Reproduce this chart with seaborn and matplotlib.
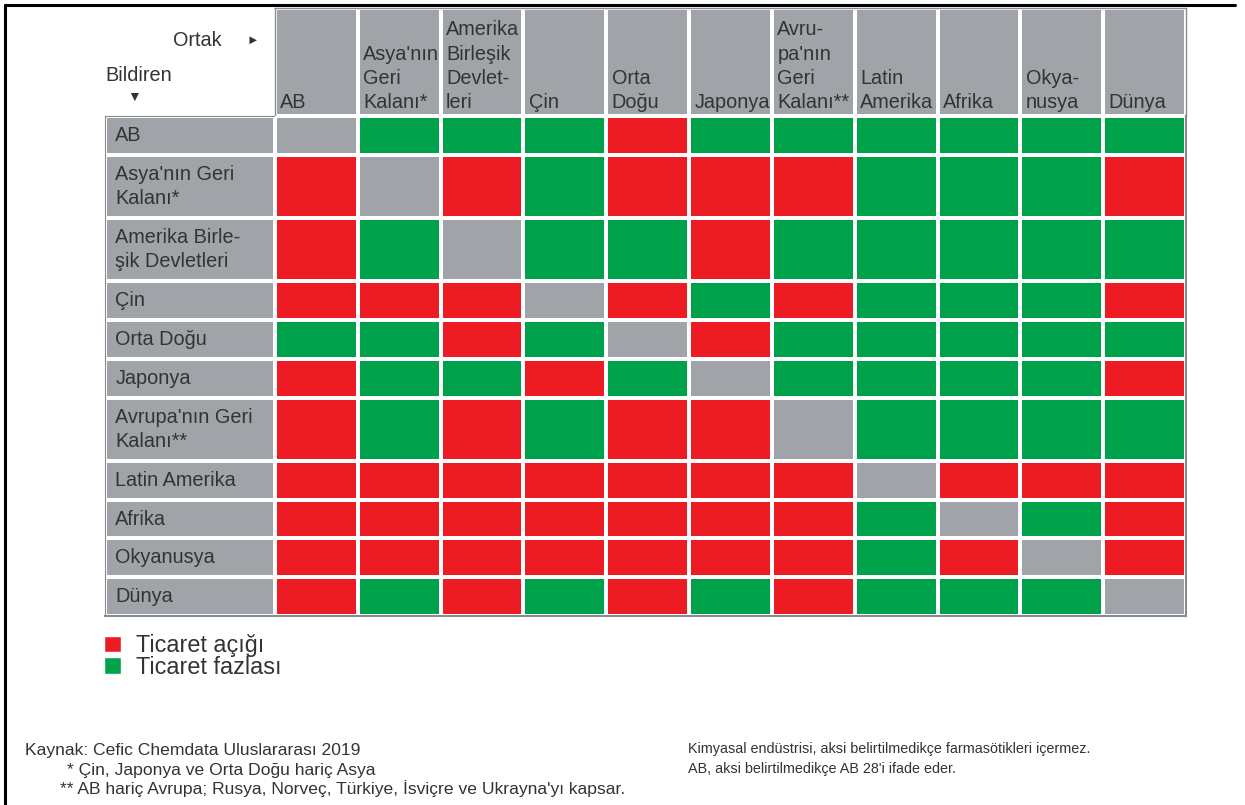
import numpy as np
import matplotlib.pyplot as plt
import seaborn as sns
from matplotlib.colors import ListedColormap
from matplotlib.lines import Line2D
from matplotlib.patches import Patch

# Ortak (partner) columns and Bildiren (reporter) rows
partners = ["AB", "Asya'nın\nGeri\nKalanı*", "Amerika\nBirleşik\nDevlet-\nleri", "Çin",
            "Orta\nDoğu", "Japonya", "Avru-\npa'nın\nGeri\nKalanı**", "Latin\nAmerika",
            "Afrika", "Okya-\nnusya", "Dünya"]
reporters = ["AB", "Asya'nın Geri\nKalanı*", "Amerika Birle-\nşik Devletleri", "Çin",
             "Orta Doğu", "Japonya", "Avrupa'nın Geri\nKalanı**", "Latin Amerika",
             "Afrika", "Okyanusya", "Dünya"]

# 1 = ticaret fazlası, -1 = ticaret açığı, 0 = kendisi
balance = [
    [0, 1, 1, 1, -1, 1, 1, 1, 1, 1, 1],
    [-1, 0, -1, 1, -1, -1, -1, 1, 1, 1, -1],
    [-1, 1, 0, 1, 1, -1, 1, 1, 1, 1, 1],
    [-1, -1, -1, 0, -1, 1, -1, 1, 1, 1, -1],
    [1, 1, -1, 1, 0, -1, 1, 1, 1, 1, 1],
    [-1, 1, 1, -1, 1, 0, 1, 1, 1, 1, -1],
    [-1, 1, -1, 1, -1, -1, 0, 1, 1, 1, 1],
    [-1, -1, -1, -1, -1, -1, -1, 0, -1, -1, -1],
    [-1, -1, -1, -1, -1, -1, -1, 1, 0, 1, -1],
    [-1, -1, -1, -1, -1, -1, -1, 1, -1, 0, -1],
    [-1, 1, -1, 1, -1, 1, -1, 1, 1, 1, 0],
]
legend_labels = ["Ticaret açığı", "Ticaret fazlası"]

RED, GREY, GREEN = "#ED1C24", "#A0A4A9", "#00A14B"
TXT = "#333333"
EDGE = "#888c91"
FS = 14.3

sns.set_style("white")
plt.rcParams["font.family"] = ["Liberation Sans", "DejaVu Sans"]

W, H = 1245, 805
fig = plt.figure(figsize=(W / 100, H / 100), dpi=100)

# row heights follow the number of label lines
row_h = [14.5 + 24.5 * (r.count("\n") + 1) for r in reporters]
gs = fig.add_gridspec(len(reporters) + 1, 2, height_ratios=[109] + row_h,
                      width_ratios=[170, 911],
                      left=105 / W, right=1186 / W, top=1 - 8 / H, bottom=1 - 616 / H,
                      hspace=0, wspace=0)

cmap = ListedColormap([RED, GREY, GREEN])
grey_cmap = ListedColormap([GREY])
lw = 1.6

# corner with axis captions
ax0 = fig.add_subplot(gs[0, 0])
ax0.axis("off")
ax0.text(0.688, 0.70, "Ortak", ha="right", va="center", fontsize=FS, color=TXT,
         transform=ax0.transAxes)
ax0.text(0.87, 0.70, "►", ha="center", va="center", fontsize=9, color=TXT,
         transform=ax0.transAxes)
ax0.text(0.0, 0.38, "Bildiren", ha="left", va="center", fontsize=FS, color=TXT,
         transform=ax0.transAxes)
ax0.text(0.17, 0.18, "▼", ha="center", va="center", fontsize=10, color=TXT,
         transform=ax0.transAxes)

# header row
axh = fig.add_subplot(gs[0, 1])
sns.heatmap(np.zeros((1, len(partners))), cmap=grey_cmap, cbar=False, linewidths=lw,
            linecolor="white", xticklabels=False, yticklabels=False, ax=axh)
for j, p in enumerate(partners):
    axh.text(j + 0.065, 0.96, p, ha="left", va="bottom", fontsize=FS, color=TXT,
             linespacing=1.35)
for s in ["top", "left", "right"]:
    axh.spines[s].set_visible(True)
    axh.spines[s].set_color(EDGE)
    axh.spines[s].set_linewidth(1)

# body rows
for i, r in enumerate(reporters):
    axl = fig.add_subplot(gs[i + 1, 0])
    sns.heatmap(np.zeros((1, 1)), cmap=grey_cmap, cbar=False, linewidths=lw,
                linecolor="white", xticklabels=False, yticklabels=False, ax=axl)
    axl.text(0.06, 0.5, r, ha="left", va="center", fontsize=FS, color=TXT,
             linespacing=1.35)
    axl.spines["left"].set_visible(True)
    axl.spines["left"].set_color(EDGE)
    if i == 0:
        axl.spines["top"].set_visible(True)
        axl.spines["top"].set_color(EDGE)

    axd = fig.add_subplot(gs[i + 1, 1])
    sns.heatmap(np.array([balance[i]]), cmap=cmap, vmin=-1, vmax=1, cbar=False,
                linewidths=lw, linecolor="white", xticklabels=False, yticklabels=False,
                ax=axd)
    axd.spines["right"].set_visible(True)
    axd.spines["right"].set_color(EDGE)
    axd.spines["right"].set_linewidth(1.5)
    if i == len(reporters) - 1:
        axd.spines["bottom"].set_visible(True)
        axd.spines["bottom"].set_color(EDGE)
        axd.spines["bottom"].set_linewidth(1.5)
        axl.spines["bottom"].set_visible(True)
        axl.spines["bottom"].set_color(EDGE)
        axl.spines["bottom"].set_linewidth(1.5)

# legend
handles = [Patch(facecolor=RED, label=legend_labels[0]),
           Patch(facecolor=GREEN, label=legend_labels[1])]
fig.legend(handles=handles, loc="upper left", bbox_to_anchor=(104 / W, 1 - 634 / H),
           frameon=False, fontsize=16.8, handlelength=0.72, handleheight=0.72,
           handletextpad=0.65, labelspacing=-0.05, borderpad=0, borderaxespad=0,
           labelcolor=TXT)

# footnotes
fig.text(25 / W, 1 - 750 / H, "Kaynak: Cefic Chemdata Uluslararası 2019", fontsize=12.6,
         color=TXT, va="center")
fig.text(67 / W, 1 - 770 / H, "* Çin, Japonya ve Orta Doğu hariç Asya", fontsize=12.6,
         color=TXT, va="center")
fig.text(60 / W, 1 - 789 / H,
         "** AB hariç Avrupa; Rusya, Norveç, Türkiye, İsviçre ve Ukrayna'yı kapsar.",
         fontsize=12.6, color=TXT, va="center")
fig.text(688 / W, 1 - 749 / H,
         "Kimyasal endüstrisi, aksi belirtilmedikçe farmasötikleri içermez.",
         fontsize=10.4, color=TXT, va="center")
fig.text(688 / W, 1 - 769 / H, "AB, aksi belirtilmedikçe AB 28'i ifade eder.",
         fontsize=10.4, color=TXT, va="center")

# page frame
fig.add_artist(Line2D([5 / W, 1235 / W], [1 - 5.5 / H, 1 - 5.5 / H], color="black",
                      lw=2.2, transform=fig.transFigure))
fig.add_artist(Line2D([5.5 / W, 5.5 / W], [1 - 5 / H, 0], color="black",
                      lw=2.2, transform=fig.transFigure))

fig.savefig("out.png", dpi=100)
